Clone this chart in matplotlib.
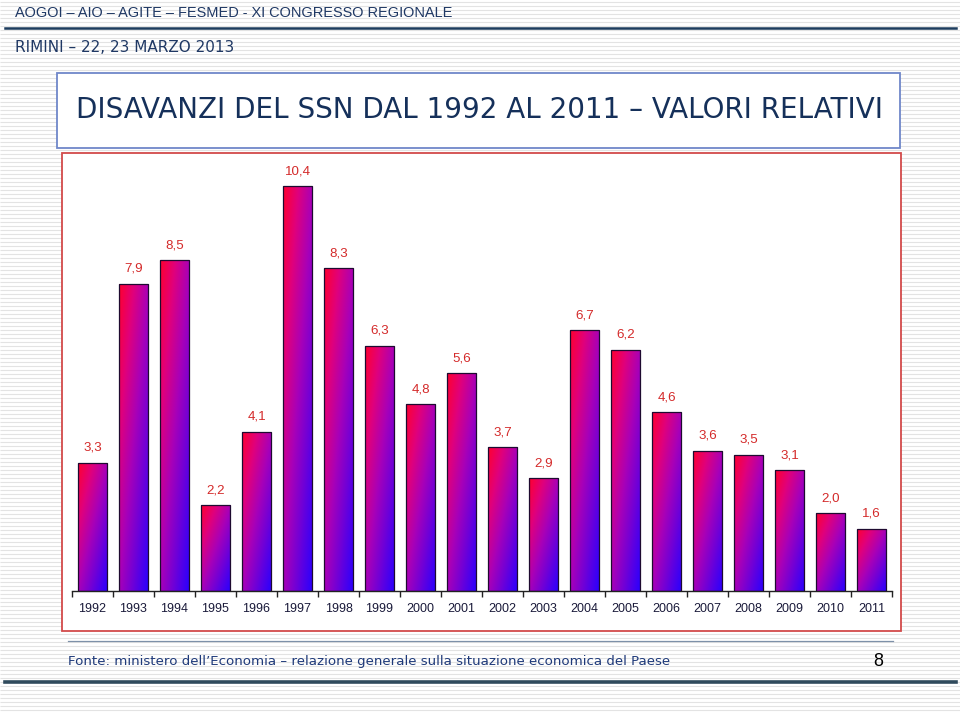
import matplotlib
matplotlib.use('Agg')
import matplotlib.pyplot as plt
import numpy as np
from matplotlib.colors import LinearSegmentedColormap
from matplotlib.patches import Rectangle

# ---- data ----
years = ['1992', '1993', '1994', '1995', '1996', '1997', '1998', '1999', '2000', '2001',
         '2002', '2003', '2004', '2005', '2006', '2007', '2008', '2009', '2010', '2011']
values = [3.3, 7.9, 8.5, 2.2, 4.1, 10.4, 8.3, 6.3, 4.8, 5.6,
          3.7, 2.9, 6.7, 6.2, 4.6, 3.6, 3.5, 3.1, 2.0, 1.6]
value_labels = [f"{v:.1f}".replace('.', ',') for v in values]

header_text = "AOGOI – AIO – AGITE – FESMED - XI CONGRESSO REGIONALE"
sub_text = "RIMINI – 22, 23 MARZO 2013"
title_text = "DISAVANZI DEL SSN DAL 1992 AL 2011 – VALORI RELATIVI"
footer_text = "Fonte: ministero dell’Economia – relazione generale sulla situazione economica del Paese"
page_no = "8"

W, H = 960, 713
fig = plt.figure(figsize=(W / 100, H / 100), dpi=100)
fig.patch.set_facecolor('white')

# ---- slide background ----
bg = fig.add_axes([0, 0, 1, 1])
bg.set_xlim(0, W)
bg.set_ylim(H, 0)
bg.axis('off')
bg.hlines(np.arange(1.5, H, 4), 0, W, color='#e3e3e3', lw=0.8, zorder=0)

bg.add_patch(Rectangle((57, 73), 843, 75, fc='white', ec='#6f87c9', lw=1.3, zorder=1))
bg.add_patch(Rectangle((62, 153), 839, 478, fc='white', ec='#d24a4a', lw=1.3, zorder=1))

bg.plot([5, 956], [28, 28], color='#1d3c5e', lw=1.8, zorder=2)
bg.plot([5, 956], [682, 682], color='#2f4a5c', lw=2.6, zorder=2)
bg.plot([68, 893], [641, 641], color='#7d90a8', lw=0.9, zorder=2)

renderer = fig.canvas.get_renderer()


def fit_text(x, y, s, target_w, **kw):
    t = bg.text(x, y, s, fontsize=10, zorder=3, **kw)
    bb = t.get_window_extent(renderer)
    t.set_fontsize(10 * target_w / bb.width)
    return t


fit_text(15, 13, header_text, 437, ha='left', va='center',
         family='Liberation Sans', color='#1f3864')
fit_text(15, 48, sub_text, 218, ha='left', va='center',
         family='DejaVu Sans', color='#1f3864')
fit_text(479, 110, title_text, 805, ha='center', va='center',
         family='DejaVu Sans', color='#15305a')
fit_text(68, 662, footer_text, 600, ha='left', va='center',
         family='DejaVu Sans', color='#1f3a7a')
bg.text(878, 662, page_no, ha='center', va='center', fontsize=13,
        family='Liberation Sans', color='black', zorder=3)

# ---- chart ----
px_per_unit = 38.9
ymax = 11
ax = fig.add_axes([72 / W, (H - 591) / H, 820 / W, ymax * px_per_unit / H])
ax.patch.set_visible(False)
x = np.arange(len(values))

cmap = LinearSegmentedColormap.from_list(
    'rb', [(0.0, '#ff0030'), (0.25, '#e0007c'), (0.5, '#a800b8'), (1.0, '#2800ff')])

bars = ax.bar(x, values, width=0.71, facecolor='none', edgecolor='#1e0a30',
              lw=0.9, zorder=3)
n = 64
gx, gy = np.meshgrid(np.linspace(0, 1, n), np.linspace(0, 1, n))
grad = 0.5 * gx + 0.5 * gy
for rect in bars:
    x0, w, h = rect.get_x(), rect.get_width(), rect.get_height()
    im = ax.imshow(grad, extent=[x0, x0 + w, 0, h], origin='upper', cmap=cmap,
                   vmin=0, vmax=1, aspect='auto', interpolation='bilinear', zorder=2)
    im.set_clip_path(rect)

for xi, v, lab in zip(x, values, value_labels):
    ax.annotate(lab, (xi, v), xytext=(0, 10.8), textcoords='offset points',
                ha='center', va='center', color='#d42a2a', fontsize=9.6,
                family='Liberation Sans', annotation_clip=False)

ax.set_xlim(-0.5, len(values) - 0.5)
ax.set_ylim(0, ymax)
ax.set_aspect('auto')
for s in ['top', 'right', 'left']:
    ax.spines[s].set_visible(False)
ax.spines['bottom'].set_color('#222222')
ax.spines['bottom'].set_linewidth(1.0)
ax.set_yticks([])
ax.set_xticks(x)
ax.set_xticklabels(years, family='Liberation Sans', fontsize=9, color='#1a1a3a')
ax.tick_params(axis='x', which='major', length=0, pad=9)
ax.set_xticks(np.arange(-0.5, len(values), 1), minor=True)
ax.tick_params(axis='x', which='minor', length=4, width=1, color='#222222', direction='out')

fig.savefig('out.png', dpi=100)
